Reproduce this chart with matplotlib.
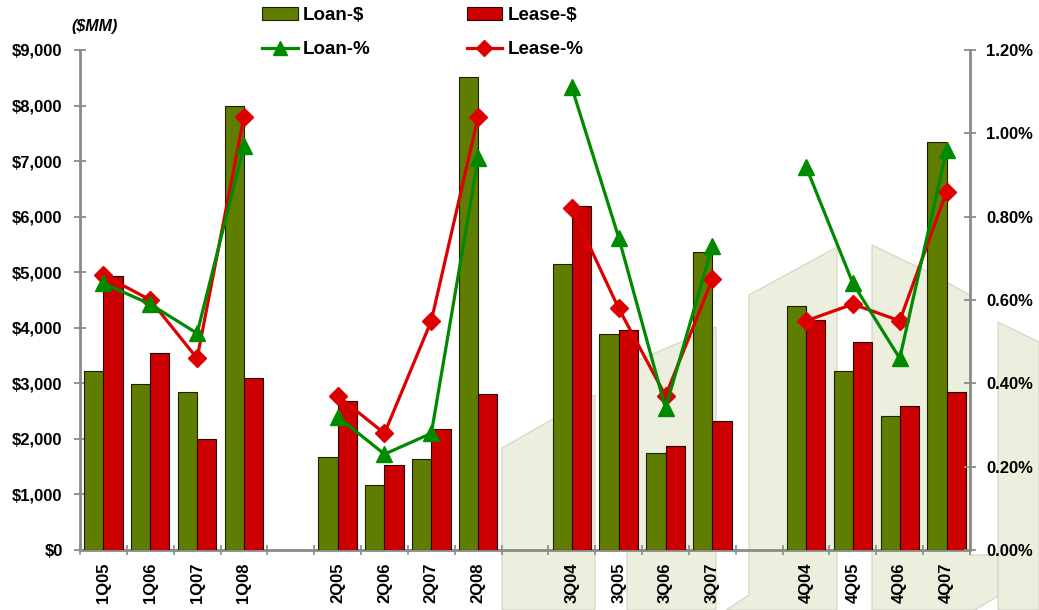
import matplotlib
matplotlib.use("Agg")
import matplotlib.pyplot as plt
from matplotlib.patches import Polygon, Patch
from matplotlib.lines import Line2D
from matplotlib.ticker import FuncFormatter, FixedLocator

plt.rcParams['font.family'] = ['Liberation Sans', 'DejaVu Sans']
plt.rcParams['font.weight'] = 'bold'

# Quarterly charge-off data, grouped by quarter of the year
categories = ['1Q05', '1Q06', '1Q07', '1Q08',
              '2Q05', '2Q06', '2Q07', '2Q08',
              '3Q04', '3Q05', '3Q06', '3Q07',
              '4Q04', '4Q05', '4Q06', '4Q07']
loan_dollars = [3220, 2990, 2840, 8000,
                1670, 1170, 1640, 8510,
                5150, 3880, 1740, 5360,
                4400, 3220, 2420, 7350]
lease_dollars = [4930, 3540, 2000, 3090,
                 2680, 1530, 2170, 2810,
                 6200, 3960, 1870, 2330,
                 4140, 3740, 2590, 2840]
loan_pct = [0.64, 0.59, 0.52, 0.97,
            0.32, 0.23, 0.28, 0.94,
            1.11, 0.75, 0.34, 0.73,
            0.92, 0.64, 0.46, 0.96]
lease_pct = [0.66, 0.60, 0.46, 1.04,
             0.37, 0.28, 0.55, 1.04,
             0.82, 0.58, 0.37, 0.65,
             0.55, 0.59, 0.55, 0.86]

GROUP = 4
OLIVE = '#5F7D00'
RED_BAR = '#CC0000'
LINE_GREEN = '#008A00'
LINE_RED = '#DD0000'
AXIS_GRAY = '#8A8A8A'
BEIGE = '#ECEEDE'

W, H = 1039, 610
fig = plt.figure(figsize=(W / 100, H / 100), dpi=100)

# decorative slide background panels (pixel space, y downward)
bg = fig.add_axes([0, 0, 1, 1], zorder=0)
bg.set_xlim(0, W)
bg.set_ylim(H, 0)
bg.axis('off')
panels = [
    [(502, 448), (595, 395), (595, 610), (502, 610)],
    [(627, 365), (716, 327), (716, 610), (627, 610)],
    [(749, 295), (837, 247), (837, 610), (726, 610), (749, 595)],
    [(872, 245), (928, 272), (970, 295), (970, 555), (998, 555),
     (998, 596), (975, 610), (872, 610)],
    [(998, 322), (1039, 342), (1039, 610), (998, 610)],
]
for pts in panels:
    bg.add_patch(Polygon(pts, closed=True, facecolor=BEIGE,
                         edgecolor='#D2D4C2', linewidth=0.8))

left, right = 80 / W, 970 / W
bottom, top = 1 - 550 / H, 1 - 50 / H
ax = fig.add_axes([left, bottom, right - left, top - bottom], zorder=1)
ax.patch.set_visible(False)
ax2 = ax.twinx()
ax2.set_zorder(2)
ax2.patch.set_visible(False)

x = [i + i // GROUP for i in range(len(categories))]
bw = 0.41
ax.bar([p - bw / 2 for p in x], loan_dollars, width=bw, color=OLIVE,
       edgecolor='#1E1E00', linewidth=0.8, zorder=3)
ax.bar([p + bw / 2 for p in x], lease_dollars, width=bw, color=RED_BAR,
       edgecolor='#2A0000', linewidth=0.8, zorder=3)

for g in range(len(categories) // GROUP):
    sl = slice(g * GROUP, (g + 1) * GROUP)
    ax2.plot(x[sl], lease_pct[sl], color=LINE_RED, lw=2.3, marker='D',
             ms=9, zorder=4)
    ax2.plot(x[sl], loan_pct[sl], color=LINE_GREEN, lw=2.3, marker='^',
             ms=11.5, zorder=5)

n_slots = x[-1] + 1
ax.set_xlim(-0.5, n_slots - 0.5)
ax.set_ylim(0, 9000)
ax2.set_ylim(0, 1.2)

ax.set_yticks(range(0, 9001, 1000))
ax.yaxis.set_major_formatter(FuncFormatter(lambda v, _: f'${v:,.0f}'))
ax2.set_yticks([0.0, 0.2, 0.4, 0.6, 0.8, 1.0, 1.2])
ax2.yaxis.set_major_formatter(FuncFormatter(lambda v, _: f'{v:.2f}%'))

ax.set_xticks(x)
ax.set_xticklabels(categories, rotation=90, fontsize=12, fontweight='bold')
ax.xaxis.set_minor_locator(FixedLocator([p - 0.5 for p in range(n_slots + 1)]))
ax.tick_params(axis='x', which='major', length=0, pad=9)
ax.tick_params(axis='x', which='minor', length=7, width=1.2,
               direction='inout', color=AXIS_GRAY)

ax.tick_params(axis='y', length=9, width=1.3, direction='inout',
               color=AXIS_GRAY, labelsize=12, pad=8)
ax2.tick_params(axis='y', length=9, width=1.3, direction='inout',
                color=AXIS_GRAY, labelsize=12, pad=7)
for t in ax.get_yticklabels() + ax2.get_yticklabels():
    t.set_fontweight('bold')

for a in (ax, ax2):
    a.spines['top'].set_visible(False)
    for s in ('left', 'right', 'bottom'):
        a.spines[s].set_color(AXIS_GRAY)
        a.spines[s].set_linewidth(2.0)
ax2.spines['left'].set_visible(False)
ax2.spines['bottom'].set_visible(False)
ax.spines['right'].set_visible(False)

fig.text(95 / W, 1 - 26 / H, '($MM)', fontsize=11.5, fontweight='bold',
         fontstyle='italic', ha='center', va='center')

handles = [
    Patch(facecolor=OLIVE, edgecolor='#1E1E00', linewidth=0.8),
    Line2D([], [], color=LINE_GREEN, lw=2.3, marker='^', ms=10),
    Patch(facecolor=RED_BAR, edgecolor='#2A0000', linewidth=0.8),
    Line2D([], [], color=LINE_RED, lw=2.3, marker='D', ms=8),
]
labels = ['Loan-$', 'Loan-%', 'Lease-$', 'Lease-%']
fig.legend(handles, labels, ncol=2, loc='upper left',
           bbox_to_anchor=(262 / W, 1 - 7 / H), frameon=False,
           prop={'size': 13.5, 'weight': 'bold'}, borderpad=0,
           borderaxespad=0, handlelength=1.9, handletextpad=0.3,
           columnspacing=5.1, labelspacing=0.9)

fig.savefig('out.png', dpi=100)
